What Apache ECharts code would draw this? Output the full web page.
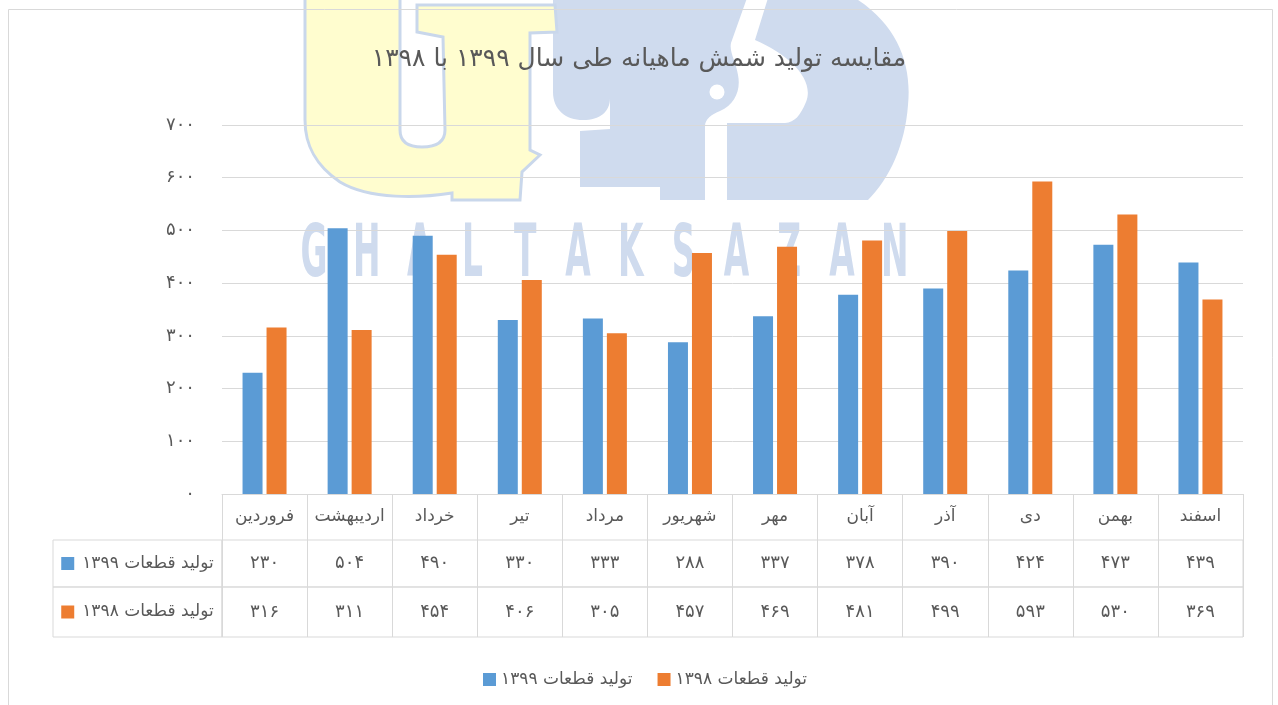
<!DOCTYPE html>
<html>
<head>
<meta charset="utf-8">
<script src="https://cdn.jsdelivr.net/npm/echarts@6/dist/echarts.min.js"></script>
<style>
  html, body { margin: 0; padding: 0; background: #fff; }
  #chart { width: 1278px; height: 705px; }
</style>
</head>
<body>
<div id="chart"></div>
<script>
// data
var months = ['فروردین', 'اردیبهشت', 'خرداد', 'تیر', 'مرداد', 'شهریور', 'مهر', 'آبان', 'آذر', 'دی', 'بهمن', 'اسفند'];
var years = ['1399', '1398'];
var prod1399 = [230, 504, 490, 330, 333, 288, 337, 378, 390, 424, 473, 439];
var prod1398 = [316, 311, 454, 406, 305, 457, 469, 481, 499, 593, 530, 369];
var yMax = 700;
var yStep = 100;
var titleText = 'مقایسه تولید شمش ماهیانه طی سال ۱۳۹۹ با ۱۳۹۸';
var watermarkText = 'GHALTAKSAZAN';

var colors = ['#5b9bd5', '#ed7d31'];
var FONT = "'DejaVu Sans', sans-serif";
var TXT = '#595959';
var LINE = '#d9d9d9';

function fa(n) {
    return String(n).replace(/\d/g, function (d) { return '۰۱۲۳۴۵۶۷۸۹'[d]; });
}

var names = years.map(function (y) { return 'تولید قطعات ' + fa(y); });
var rows = [prod1399, prod1398];

// layout
var plotLeft = 222, plotRight = 35, cellLeft = 53, cellW = 169;
var rowTops = [540, 587], rowHs = [47, 50];

// logo outlines for the watermark
echarts.graphic.registerShape('wmBlue', echarts.graphic.extendPath(
    'M553 -2 L855 -2 C898 25 912 65 908 105 C905 145 890 178 868 200 L660 200 L660 187 L580 187 L580 131 L610 129 L610 98 C610 112 600 120 583 120 C566 120 553 110 553 92 Z', {}));
echarts.graphic.registerShape('wmCut', echarts.graphic.extendPath(
    'M747 -2 L768 -2 L755 40 C790 55 815 80 806 102 C800 116 795 122 785 123 L727 123 L727 201 L705 201 L705 126 C705 119 712 114 720 111 C735 104 741 90 738 75 C736 62 729 52 731 43 Z', {}));
echarts.graphic.registerShape('wmYellow', echarts.graphic.extendPath(
    'M305 -5 L400 -5 L400 130 Q400 147 422 147 Q445 147 445 130 L443 37 L417 32 L417 5 L555 5 L557 32 L530 33 L530 150 L540 155 L522 172 L520 200 L452 200 L452 193 C420 198 370 200 340 182 C315 165 305 145 305 120 Z', {}));

var myChart = echarts.init(document.getElementById('chart'));

// watermark (logo + letters), sits under everything
var wm = [];
wm.push({ type: 'wmBlue', z: -3, style: { fill: '#cfdbee' } });
wm.push({ type: 'wmCut', z: -2, style: { fill: '#fff' } });
wm.push({ type: 'circle', z: -2, shape: { cx: 717, cy: 92, r: 7.5 }, style: { fill: '#fff' } });
wm.push({ type: 'wmYellow', z: -1, style: { fill: '#fffdcf', stroke: '#c9d7eb', lineWidth: 3 } });
watermarkText.split('').forEach(function (ch, i) {
    wm.push({
        type: 'text', z: -1,
        x: 314 + i * 52.8, y: 257, scaleX: 0.45,
        style: { text: ch, x: 0, y: 0, align: 'center', verticalAlign: 'middle', fontSize: 73, fontWeight: 'bold', fontFamily: FONT, fill: '#cfdbee' }
    });
});
// outer frame
wm.push({
    type: 'rect', z: 5,
    shape: { x: 8.5, y: 9.5, width: 1264, height: 720 },
    style: { fill: 'none', stroke: LINE, lineWidth: 1 }
});

var grids = [{ left: plotLeft, right: plotRight, top: 125, height: 369 }];
var xAxes = [{
    type: 'category', gridIndex: 0, data: months,
    axisLine: { lineStyle: { color: LINE } },
    axisTick: { show: true, length: 46, interval: 0, lineStyle: { color: LINE } },
    axisLabel: { interval: 0, margin: 23, verticalAlign: 'middle', color: TXT, fontSize: 17, fontFamily: FONT }
}];
var yAxes = [{
    type: 'value', gridIndex: 0, min: 0, max: yMax, interval: yStep,
    axisLine: { show: false }, axisTick: { show: false },
    axisLabel: { margin: 27, color: TXT, fontSize: 18, fontFamily: FONT, formatter: function (v) { return fa(v); } },
    splitLine: { lineStyle: { color: LINE } }
}];

// data table rows: value cells and label cells
rows.forEach(function (vals, r) {
    var gi = grids.length;
    grids.push({ left: plotLeft, right: plotRight, top: rowTops[r], height: rowHs[r], show: true, borderColor: LINE, borderWidth: 1 });
    xAxes.push({
        type: 'category', gridIndex: gi, data: months,
        axisLine: { show: false }, axisTick: { show: false },
        splitLine: { show: true, interval: 0, lineStyle: { color: LINE } },
        axisLabel: { inside: true, interval: 0, margin: rowHs[r] / 2, verticalAlign: 'middle', color: TXT, fontSize: 18, fontFamily: FONT,
            formatter: function (v, idx) { return fa(vals[idx]); } }
    });
    yAxes.push({ type: 'value', gridIndex: gi, show: false });

    var gl = grids.length;
    grids.push({ left: cellLeft, width: cellW, top: rowTops[r], height: rowHs[r], show: true, borderColor: LINE, borderWidth: 1 });
    xAxes.push({
        type: 'category', gridIndex: gl, data: [names[r]],
        axisLine: { show: false }, axisTick: { show: false },
        axisLabel: { inside: true, margin: rowHs[r] / 2, verticalAlign: 'middle',
            formatter: function (v) { return '{sq|}{t|' + v + '}'; },
            rich: {
                sq: { width: 13, height: 13, backgroundColor: colors[r] },
                t: { color: TXT, fontSize: 17, fontFamily: FONT, padding: [0, 0, 0, 8] }
            } }
    });
    yAxes.push({ type: 'value', gridIndex: gl, show: false });
});

var option = {
    animation: false,
    backgroundColor: '#fff',
    color: colors,
    title: {
        text: titleText, left: 'center', top: 42,
        textStyle: { color: TXT, fontSize: 25, fontWeight: 'normal', fontFamily: FONT }
    },
    legend: {
        data: names, left: 478, top: 666, itemGap: 25,
        icon: 'rect', itemWidth: 13, itemHeight: 13,
        textStyle: { color: TXT, fontSize: 17, fontFamily: FONT }
    },
    graphic: { elements: wm },
    grid: grids,
    xAxis: xAxes,
    yAxis: yAxes,
    series: [{
        name: names[0], type: 'bar', data: prod1399, barWidth: 20, barGap: '20%', xAxisIndex: 0, yAxisIndex: 0
    }, {
        name: names[1], type: 'bar', data: prod1398, barWidth: 20, barGap: '20%', xAxisIndex: 0, yAxisIndex: 0
    }]
};
myChart.setOption(option);
</script>
</body>
</html>
